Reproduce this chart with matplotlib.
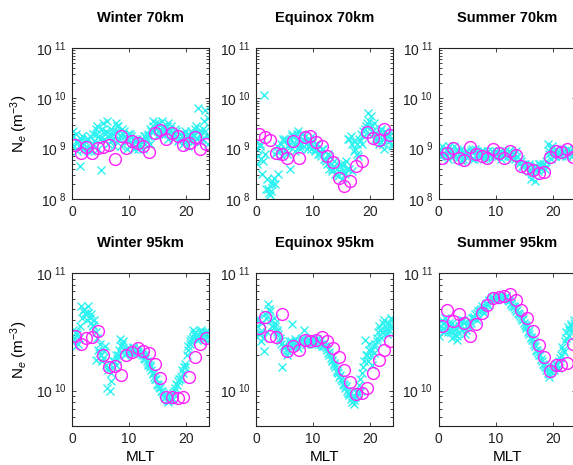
import numpy as np
import matplotlib
matplotlib.use("Agg")
import matplotlib.pyplot as plt
from matplotlib.ticker import LogLocator, FuncFormatter, NullFormatter

plt.rcParams['font.family'] = ['Liberation Sans', 'DejaVu Sans']
plt.rcParams['mathtext.fontset'] = 'custom'
plt.rcParams['mathtext.rm'] = 'Liberation Sans'
plt.rcParams['mathtext.it'] = 'Liberation Sans:italic'
plt.rcParams['mathtext.bf'] = 'Liberation Sans:bold'

# ---------------- data (log10 of Ne in m^-3) ----------------
titles = ["Winter 70km", "Equinox 70km", "Summer 70km",
          "Winter 95km", "Equinox 95km", "Summer 95km"]

mlt_hourly = [h + 0.5 for h in range(24)]
mlt_fine = [q * 0.25 + 0.125 for q in range(96)]
mlt_half = [k * 0.5 + 0.25 for k in range(48)]

w70_circ = [9.075, 8.92, 9.03, 8.92, 9.02, 9.04, 9.08, 8.80, 9.26, 9.02, 9.15, 9.11,
            9.06, 8.94, 9.32, 9.37, 9.20, 9.32, 9.25, 9.075, 9.11, 9.23, 9.00, 9.09]
e70_circ = [9.29, 9.23, 9.17, 8.92, 8.89, 8.81, 9.15, 8.81, 9.24, 9.26, 9.14, 9.06,
            8.86, 8.74, 8.41, 8.25, 8.35, 8.65, 8.76, 9.33, 9.22, 9.18, 9.39, 9.27]
s70_circ = [8.82, 8.92, 9.02, 8.82, 8.78, 9.04, 8.89, 8.86, 8.81, 8.99, 8.91, 8.82,
            8.96, 8.88, 8.66, 8.62, 8.58, 8.51, 8.53, 8.84, 8.96, 8.94, 9.00, 8.84]
w95_circ = [10.47, 10.40, 10.45, 10.46, 10.51, 10.30, 10.20, 10.21, 10.13, 10.30, 10.33, 10.36,
            10.34, 10.32, 10.23, 10.11, 9.95, 9.95, 9.94, 9.95, 10.12, 10.29, 10.40, 10.45]
e95_circ = [10.53, 10.63, 10.47, 10.46, 10.65, 10.34, 10.38, 10.35, 10.43, 10.42, 10.43, 10.46,
            10.42, 10.36, 10.29, 10.18, 10.07, 9.97, 9.98, 10.02, 10.15, 10.26, 10.35, 10.42]
s95_circ = [10.55, 10.69, 10.59, 10.65, 10.58, 10.47, 10.57, 10.66, 10.73, 10.79, 10.80, 10.81,
            10.82, 10.77, 10.69, 10.62, 10.51, 10.39, 10.29, 10.17, 10.22, 10.22, 10.24, 10.40]

w70_x = [9.25, 9.05, 9.30, 8.95, 9.15, 8.66, 9.20, 9.00, 9.10, 9.00, 9.20, 8.95,
         9.25, 8.95, 9.10, 9.15, 9.30, 9.45, 9.00, 9.20, 8.58, 9.50, 9.20, 9.35,
         9.55, 9.10, 9.30, 9.15, 9.20, 9.05, 9.35, 9.45, 9.45, 9.25, 9.05, 9.30,
         9.35, 9.20, 9.00, 9.30, 9.30, 9.10, 9.20, 9.00, 9.05, 9.20, 9.00, 9.10,
         9.15, 9.00, 9.25, 9.10, 9.20, 9.30, 9.10, 9.35, 9.45, 9.35, 9.50, 9.25,
         9.50, 9.40, 9.30, 9.45, 9.40, 9.30, 9.45, 9.20, 9.35, 9.45, 9.20, 9.30,
         9.40, 9.25, 9.15, 9.30, 9.20, 9.10, 9.30, 9.15, 9.25, 9.05, 9.20, 9.35,
         9.30, 9.15, 9.40, 9.20, 9.80, 9.30, 9.15, 9.40, 9.55, 9.77, 9.25, 9.10]
e70_x = [9.00, 8.85, 9.10, 8.80, 8.50, 10.06, 8.90, 8.40, 8.20, 8.08, 8.15, 8.30,
         8.41, 8.90, 9.05, 8.50, 8.95, 9.10, 8.85, 9.15, 9.20, 8.90, 9.05, 8.60,
         9.20, 9.30, 9.05, 9.10, 9.20, 9.35, 9.00, 9.10, 9.30, 9.15, 9.25, 9.00,
         9.20, 9.10, 9.00, 9.15, 9.05, 8.95, 9.10, 8.90, 8.95, 8.85, 9.00, 8.80,
         8.80, 8.70, 8.90, 8.60, 8.70, 8.55, 8.65, 8.50, 8.60, 8.45, 8.55, 8.70,
         8.40, 8.70, 8.50, 8.60, 9.20, 8.60, 9.25, 8.55, 9.15, 9.00, 8.90, 8.85,
         9.20, 9.30, 9.10, 9.25, 9.40, 9.50, 9.70, 9.30, 9.65, 9.45, 9.30, 9.20,
         9.30, 9.20, 9.10, 9.40, 9.20, 9.00, 9.35, 9.25, 9.30, 9.15, 9.20, 9.10]
s70_x = [8.95, 8.85, 9.05, 8.90, 8.90, 9.00, 8.80, 8.95, 8.85, 8.95, 9.05, 8.90,
         8.80, 8.95, 8.90, 9.00, 8.75, 8.90, 8.85, 8.95, 8.90, 8.85, 8.95, 8.80,
         8.95, 9.00, 8.90, 8.85, 8.85, 8.95, 8.90, 8.80, 8.90, 8.80, 8.95, 8.85,
         8.90, 8.95, 8.85, 8.90, 8.95, 8.85, 8.90, 8.80, 8.90, 8.85, 8.95, 8.90,
         8.85, 8.95, 8.90, 8.80, 8.90, 8.80, 8.95, 8.75, 8.70, 8.75, 8.65, 8.70,
         8.70, 8.60, 8.65, 8.55, 8.40, 8.50, 8.60, 8.35, 8.65, 8.55, 8.70, 8.60,
         8.65, 8.70, 8.60, 8.75, 9.10, 8.95, 8.80, 9.05, 8.95, 8.85, 9.00, 8.90,
         8.90, 9.00, 8.85, 8.95, 8.95, 8.85, 9.00, 8.90, 8.95, 8.85, 9.00, 8.90]
w95_x = [10.52, 10.45, 10.38, 10.48, 10.40, 10.55, 10.72, 10.68, 10.70, 10.65, 10.60, 10.66,
         10.62, 10.58, 10.55, 10.60, 10.26, 10.45, 10.35, 10.40, 10.30, 10.28, 10.34, 10.22,
         10.02, 10.18, 10.00, 10.15, 10.20, 10.25, 10.22, 10.27, 10.30, 10.44, 10.38, 10.42,
         10.35, 10.32, 10.33, 10.36, 10.34, 10.32, 10.36, 10.33, 10.35, 10.34, 10.33, 10.32,
         10.33, 10.30, 10.28, 10.27, 10.25, 10.22, 10.20, 10.18, 10.15, 10.12, 10.10, 10.06,
         10.05, 10.02, 10.00, 9.98, 9.96, 9.94, 9.92, 9.90, 9.92, 9.95, 9.98, 10.00,
         10.02, 10.05, 10.08, 10.10, 10.12, 10.15, 10.20, 10.23, 10.30, 10.35, 10.40, 10.44,
         10.45, 10.48, 10.50, 10.43, 10.47, 10.50, 10.52, 10.45, 10.48, 10.50, 10.46, 10.42]
e95_x = [10.55, 10.62, 10.48, 10.42, 10.58, 10.34, 10.65, 10.50, 10.74, 10.68, 10.60, 10.55,
         10.62, 10.55, 10.50, 10.48, 10.45, 10.40, 10.20, 10.36, 10.38, 10.30, 10.34, 10.40,
         10.42, 10.57, 10.38, 10.40, 10.40, 10.36, 10.42, 10.44, 10.45, 10.52, 10.42, 10.40,
         10.44, 10.42, 10.40, 10.45, 10.43, 10.41, 10.44, 10.42, 10.42, 10.40, 10.38, 10.41,
         10.38, 10.35, 10.32, 10.30, 10.28, 10.25, 10.22, 10.20, 10.18, 10.15, 10.12, 10.10,
         10.08, 10.05, 10.02, 10.00, 9.98, 9.96, 9.93, 9.90, 9.89, 9.95, 10.00, 9.97,
         10.05, 10.00, 10.15, 10.25, 10.43, 10.30, 10.25, 10.35, 10.30, 10.22, 10.38, 10.40,
         10.42, 10.50, 10.55, 10.45, 10.50, 10.60, 10.55, 10.48, 10.58, 10.52, 10.62, 10.55]
s95_x = [10.47, 10.55, 10.60, 10.50, 10.62, 10.55, 10.50, 10.58, 10.50, 10.45, 10.55, 10.48,
         10.43, 10.50, 10.55, 10.60, 10.52, 10.58, 10.48, 10.55, 10.55, 10.60, 10.58, 10.62,
         10.62, 10.65, 10.60, 10.68, 10.68, 10.70, 10.72, 10.66, 10.72, 10.75, 10.73, 10.77,
         10.78, 10.80, 10.79, 10.77, 10.80, 10.79, 10.81, 10.78, 10.80, 10.78, 10.79, 10.80,
         10.77, 10.76, 10.74, 10.72, 10.72, 10.70, 10.68, 10.66, 10.65, 10.62, 10.60, 10.58,
         10.56, 10.53, 10.50, 10.48, 10.46, 10.43, 10.40, 10.38, 10.35, 10.32, 10.30, 10.27,
         10.25, 10.22, 10.20, 10.18, 10.15, 10.12, 10.17, 10.20, 10.18, 10.20, 10.22, 10.19,
         10.25, 10.30, 10.37, 10.33, 10.42, 10.50, 10.54, 10.47, 10.57, 10.52, 10.60, 10.55]

# second batch of crosses, one every half hour
w70_x2 = [9.35, 9.15, 9.05, 9.25, 9.15, 9.20, 9.00, 9.30, 9.40, 9.25, 9.40, 9.30,
          9.25, 9.40, 9.30, 9.50, 9.20, 9.40, 9.25, 9.15, 9.25, 9.10, 9.15, 9.05,
          9.20, 9.25, 9.25, 9.40, 9.55, 9.40, 9.35, 9.55, 9.35, 9.50, 9.40, 9.25,
          9.35, 9.20, 9.25, 9.35, 9.30, 9.15, 9.25, 9.45, 9.35, 9.20, 9.35, 9.60]
e70_x2 = [8.70, 9.05, 8.75, 8.20, 8.12, 8.35, 8.30, 8.95, 9.00, 9.20, 8.95, 9.10,
          9.25, 8.95, 9.30, 9.05, 9.20, 9.10, 9.05, 9.25, 9.00, 9.10, 8.90, 9.00,
          8.75, 8.85, 8.60, 8.75, 8.50, 8.65, 8.55, 8.75, 9.20, 9.10, 8.95, 9.10,
          9.15, 9.35, 9.45, 9.55, 9.35, 9.50, 9.15, 9.35, 9.10, 9.30, 9.25, 9.05]
s70_x2 = [9.00, 8.90, 8.85, 9.05, 8.90, 8.85, 9.00, 8.90, 8.80, 8.95, 8.90, 9.00,
          8.80, 8.95, 8.90, 8.95, 8.85, 8.90, 8.95, 8.85, 8.90, 8.95, 8.85, 8.90,
          8.95, 8.85, 8.90, 8.85, 8.80, 8.65, 8.60, 8.70, 8.55, 8.65, 8.60, 8.70,
          8.70, 8.65, 8.90, 9.00, 8.85, 8.95, 8.90, 8.95, 8.85, 8.95, 8.90, 9.00]
w95_x2 = [10.42, 10.50, 10.45, 10.62, 10.66, 10.72, 10.65, 10.56, 10.50, 10.32, 10.25, 10.38,
          10.20, 10.08, 10.25, 10.30, 10.35, 10.40, 10.30, 10.34, 10.35, 10.37, 10.33, 10.36,
          10.31, 10.30, 10.24, 10.22, 10.14, 10.10, 10.03, 10.00, 9.95, 9.92, 9.96, 9.93,
          10.06, 10.10, 10.18, 10.20, 10.38, 10.42, 10.52, 10.47, 10.44, 10.50, 10.44, 10.50]
e95_x2 = [10.60, 10.50, 10.45, 10.62, 10.70, 10.55, 10.58, 10.52, 10.42, 10.38, 10.35, 10.42,
          10.38, 10.44, 10.38, 10.42, 10.44, 10.40, 10.42, 10.45, 10.40, 10.44, 10.40, 10.38,
          10.36, 10.33, 10.26, 10.24, 10.16, 10.13, 10.06, 10.04, 9.98, 9.95, 9.92, 9.98,
          10.10, 10.20, 10.30, 10.40, 10.35, 10.32, 10.45, 10.52, 10.58, 10.52, 10.55, 10.60]
s95_x2 = [10.52, 10.58, 10.55, 10.52, 10.58, 10.52, 10.47, 10.55, 10.60, 10.52, 10.57, 10.62,
          10.63, 10.66, 10.69, 10.70, 10.74, 10.76, 10.79, 10.78, 10.80, 10.81, 10.79, 10.81,
          10.78, 10.75, 10.71, 10.69, 10.64, 10.61, 10.55, 10.52, 10.45, 10.42, 10.34, 10.30,
          10.23, 10.20, 10.14, 10.16, 10.20, 10.23, 10.28, 10.35, 10.45, 10.52, 10.55, 10.58]

circ_sets = [w70_circ, e70_circ, s70_circ, w95_circ, e95_circ, s95_circ]
cross_sets = [w70_x, e70_x, s70_x, w95_x, e95_x, s95_x]
cross_sets2 = [w70_x2, e70_x2, s70_x2, w95_x2, e95_x2, s95_x2]

# ---------------- figure ----------------
W, H = 573, 465
fig = plt.figure(figsize=(W / 100, H / 100), dpi=100)

lefts = [72, 256, 438.7]
width = 137
rows = [(48, 199, (1e8, 1e11)), (273.3, 426, (5e9, 1e11))]

CYAN = '#2ef2f2'
MAGENTA = '#ff22ff'


def sci_fmt(v, pos):
    e = int(round(np.log10(v)))
    return r'10$^{\ %d}$' % e


for i in range(6):
    r, c = divmod(i, 3)
    top, bot, ylim = rows[r]
    ax = fig.add_axes([lefts[c] / W, 1 - bot / H, width / W, (bot - top) / H])
    ax.set_yscale('log')
    ax.plot(mlt_fine, [10 ** v for v in cross_sets[i]], linestyle='none', marker='x',
            color=CYAN, markersize=5.5, markeredgewidth=1.0)
    ax.plot(mlt_half, [10 ** v for v in cross_sets2[i]], linestyle='none', marker='x',
            color=CYAN, markersize=5.5, markeredgewidth=1.0)
    ax.plot(mlt_hourly, [10 ** v for v in circ_sets[i]], linestyle='none', marker='o',
            markerfacecolor='none', markeredgecolor=MAGENTA, markersize=8.5,
            markeredgewidth=1.0)
    ax.set_xlim(0, 24)
    ax.set_ylim(*ylim)
    ax.set_xticks([0, 10, 20])
    ax.yaxis.set_major_locator(LogLocator(base=10, numticks=10))
    ax.yaxis.set_minor_locator(LogLocator(base=10, subs=np.arange(2, 10), numticks=10))
    ax.yaxis.set_major_formatter(FuncFormatter(sci_fmt))
    ax.yaxis.set_minor_formatter(NullFormatter())
    ax.tick_params(which='both', direction='in', top=True, right=True,
                   labelsize=10, colors='#222222', length=3, width=0.6, pad=4)
    ax.tick_params(which='minor', length=2)
    for s in ax.spines.values():
        s.set_linewidth(0.8)
        s.set_color('#222222')
    ax.set_title(titles[i], fontsize=10.5, fontweight='bold', pad=19)
    if c == 0:
        ax.set_ylabel(r'N$_e$ (m$^{-3}$)', fontsize=11, labelpad=4)
    if r == 1:
        ax.set_xlabel('MLT', fontsize=11, labelpad=3)

fig.savefig('out.png', dpi=100)
